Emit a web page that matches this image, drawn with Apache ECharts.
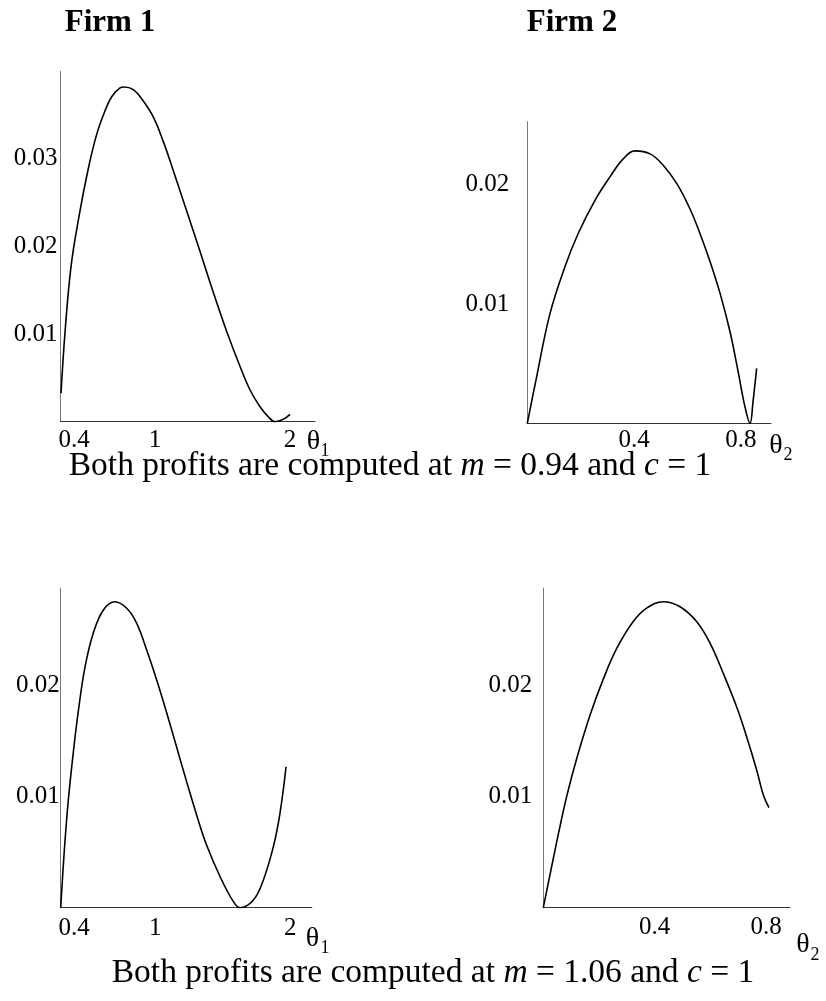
<!DOCTYPE html>
<html>
<head>
<meta charset="utf-8">
<script src="https://cdn.jsdelivr.net/npm/echarts@6/dist/echarts.min.js"></script>
<style>
    html, body {margin: 0; padding: 0; background: #fff;}
    #main {width: 826px; height: 1001px;}
</style>
</head>
<body>
<div id="main"></div>
<script>
// m = 0.94, firm 1
var theta1Top = [0.304, 0.333, 0.378, 0.439, 0.506, 0.568, 0.63, 0.679, 0.741, 0.77, 0.839, 0.909, 0.987, 1.061,
    1.124, 1.21, 1.296, 1.37, 1.444, 1.531, 1.63, 1.704, 1.778, 1.839, 1.889, 1.95, 2.0];
var profit1Top = [0.00324, 0.01009, 0.0177, 0.0236, 0.0289, 0.0328, 0.0355, 0.0371, 0.0381, 0.0382, 0.0379, 0.0367,
    0.0348, 0.032, 0.0292, 0.0252, 0.0212, 0.0177, 0.0142, 0.0103, 0.0063, 0.00362, 0.00171, 0.00057, 0, 0.00027, 0.00084];
// m = 0.94, firm 2
var theta2Top = [0, 0.035, 0.085, 0.141, 0.191, 0.254, 0.31, 0.36, 0.403, 0.46, 0.509, 0.56, 0.609, 0.647, 0.684,
    0.722, 0.759, 0.79, 0.815, 0.834, 0.846, 0.853, 0.859];
var profit2Top = [0, 0.0039, 0.0092, 0.01314, 0.01594, 0.01873, 0.02069, 0.0222, 0.02285, 0.0226, 0.02165, 0.0201,
    0.018, 0.0159, 0.0136, 0.0109, 0.0077, 0.0043, 0.0014, 0, 0.00195, 0.00336, 0.00461];
// m = 1.06, firm 1
var theta1Bot = [0.3, 0.327, 0.356, 0.393, 0.43, 0.48, 0.541, 0.616, 0.702, 0.789, 0.863, 0.937, 1.011, 1.085, 1.159,
    1.233, 1.31, 1.381, 1.48, 1.579, 1.628, 1.727, 1.801, 1.875, 1.924, 1.969];
var profit1Bot = [0, 0.00518, 0.0096, 0.0139, 0.0176, 0.0216, 0.02464, 0.02674, 0.02748, 0.02689, 0.02554, 0.02314,
    0.02045, 0.0175, 0.0144, 0.0113, 0.0082, 0.0056, 0.0028, 0.00054, 0, 0.00069, 0.00249, 0.00548, 0.00848, 0.01266];
// m = 1.06, firm 2
var theta2Bot = [0, 0.03, 0.054, 0.084, 0.12, 0.168, 0.215, 0.264, 0.323, 0.371, 0.431, 0.491, 0.551, 0.599, 0.646,
    0.694, 0.73, 0.766, 0.79, 0.81];
var profit2Bot = [0, 0.0037, 0.0066, 0.01, 0.0134, 0.0173, 0.0205, 0.0233, 0.0257, 0.0269, 0.02748, 0.02703,
    0.02568, 0.02374, 0.02105, 0.01805, 0.01536, 0.01237, 0.01012, 0.00898];

var theta1Ticks = [0.4, 1, 2];
var theta2Ticks = [0.4, 0.8];
var profitTicksA = [0.01, 0.02, 0.03];
var profitTicksB = [0.01, 0.02];

var serif = "'Liberation Serif', 'Times New Roman', serif";

function pairs(xs, ys) {
    return xs.map(function (x, i) {
        return [x, ys[i]];
    });
}

function xAx(idx, min, max, ticks, margin) {
    return {
        type: 'value', gridIndex: idx, min: min, max: max,
        axisLine: {show: true, onZero: false, lineStyle: {color: '#333', width: 1.2}},
        axisTick: {show: false},
        splitLine: {show: false},
        axisLabel: {customValues: ticks, color: '#000', fontFamily: serif, fontSize: 25, margin: margin}
    };
}

function yAx(idx, max, ticks, margin) {
    return {
        type: 'value', gridIndex: idx, min: 0, max: max,
        axisLine: {show: true, onZero: false, lineStyle: {color: '#777', width: 1}},
        axisTick: {show: false},
        splitLine: {show: false},
        axisLabel: {customValues: ticks, color: '#000', fontFamily: serif, fontSize: 25, margin: margin}
    };
}

function curve(idx, data) {
    return {
        type: 'line', xAxisIndex: idx, yAxisIndex: idx, data: data,
        showSymbol: false, smooth: 0.4, animation: false,
        lineStyle: {color: '#000', width: 1.6}
    };
}

function txt(x, y, s, size, extra) {
    var st = {text: s, x: x, y: y, fill: '#000', font: (extra || '') + ' ' + size + 'px ' + serif,
        textAlign: 'center', textVerticalAlign: 'middle'};
    return {type: 'text', style: st};
}

function caption(x, y, m) {
    return {
        type: 'text',
        style: {
            text: 'Both profits are computed at {i|m} = ' + m + ' and {i|c} = 1',
            x: x, y: y, fill: '#000', fontFamily: serif, fontSize: 33.5,
            textAlign: 'center', textVerticalAlign: 'middle',
            rich: {i: {fontFamily: serif, fontSize: 33.5, fontStyle: 'italic', fill: '#000'}}
        }
    };
}

var myChart = echarts.init(document.getElementById('main'));
myChart.setOption({
    backgroundColor: '#fff',
    animation: false,
    grid: [
        {left: 60.5, top: 71.3, width: 254.5, height: 350.4},
        {left: 527.3, top: 121.7, width: 243.7, height: 301.6},
        {left: 60.7, top: 588.1, width: 251, height: 319.6},
        {left: 543.3, top: 588.1, width: 246.7, height: 319.6}
    ],
    xAxis: [
        xAx(0, 0.3, 2.185, theta1Ticks, 6),
        xAx(1, 0, 0.9127, theta2Ticks, 5),
        xAx(2, 0.3, 2.159, theta1Ticks, 8),
        xAx(3, 0, 0.8857, theta2Ticks, 7)
    ],
    yAxis: [
        yAx(0, 0.04, profitTicksA, 3),
        yAx(1, 0.0253, profitTicksB, 18),
        yAx(2, 0.0287, profitTicksB, 1),
        yAx(3, 0.0287, profitTicksB, 11)
    ],
    series: [
        curve(0, pairs(theta1Top, profit1Top)),
        curve(1, pairs(theta2Top, profit2Top)),
        curve(2, pairs(theta1Bot, profit1Bot)),
        curve(3, pairs(theta2Bot, profit2Bot))
    ],
    graphic: [
        txt(110, 23, 'Firm 1', 31, 'bold'),
        txt(572, 23, 'Firm 2', 31, 'bold'),
        txt(313.5, 442, 'θ', 28), txt(325, 451, '1', 18),
        txt(776, 446, 'θ', 28), txt(788, 455, '2', 18),
        txt(312.5, 939, 'θ', 28), txt(325, 948, '1', 18),
        txt(803, 945, 'θ', 28), txt(815, 955, '2', 18),
        caption(390, 466, '0.94'),
        caption(433, 973, '1.06')
    ]
});
</script>
</body>
</html>
